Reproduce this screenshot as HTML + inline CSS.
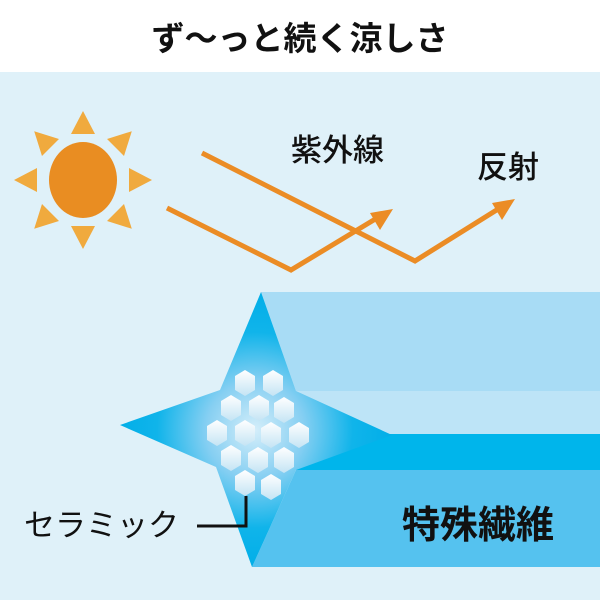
<!DOCTYPE html>
<html><head><meta charset="utf-8"><style>
body{margin:0;width:600px;height:600px;overflow:hidden;background:#fff}
</style></head><body>
<svg width="600" height="600" viewBox="0 0 600 600" xmlns="http://www.w3.org/2000/svg" font-family="'Liberation Sans','Noto Sans CJK JP',sans-serif">
<defs>
<radialGradient id="sg" cx="255" cy="430" r="140" gradientUnits="userSpaceOnUse">
<stop offset="0" stop-color="#d4eefa"/><stop offset="0.35" stop-color="#86cff2"/><stop offset="0.7" stop-color="#10b4ea"/><stop offset="1" stop-color="#00aee8"/></radialGradient>
<linearGradient id="hg" x1="0" y1="0" x2="0" y2="1"><stop offset="0" stop-color="#ffffff"/><stop offset="1" stop-color="#c4e4f4"/></linearGradient>
<polygon id="hx" points="0,-13 10,-7 10,7 0,13 -10,7 -10,-7" fill="url(#hg)"/>
<polygon id="ray" points="-12,-46 12,-46 0,-69" fill="#f0aa3e"/>
</defs>
<rect x="0" y="72" width="600" height="528" fill="#dff1f9"/>
<text x="300" y="50" font-size="33" font-weight="bold" text-anchor="middle" fill="#111">ず〜っと続く涼しさ</text>
<g transform="translate(83,180)">
<use href="#ray"/>
<use href="#ray" transform="rotate(45)"/>
<use href="#ray" transform="rotate(90)"/>
<use href="#ray" transform="rotate(135)"/>
<use href="#ray" transform="rotate(180)"/>
<use href="#ray" transform="rotate(225)"/>
<use href="#ray" transform="rotate(270)"/>
<use href="#ray" transform="rotate(315)"/>
</g>
<ellipse cx="83" cy="180" rx="34" ry="38" fill="#e98d22"/>
<g stroke="#eb8c25" stroke-width="5" fill="none">
<polyline points="167,208 291,270 382,215"/>
<polyline points="202,153 415,261 503,206"/>
</g>
<g fill="#eb8c25">
<polygon points="393,209 370,213 380,230"/>
<polygon points="515,199 492,203 502,220"/>
</g>
<text x="291" y="161" font-size="31" font-weight="500" fill="#111">紫外線</text>
<text x="477" y="178" font-size="31" font-weight="500" fill="#111">反射</text>
<polygon points="261,292 600,292 600,391 296,391" fill="#a8dcf5"/>
<rect x="296" y="391" width="304" height="44" fill="#bde4f7"/>
<rect x="296" y="434" width="304" height="37" fill="#00b5eb"/>
<polygon points="296,470 600,470 600,567 252,567" fill="#55c2ef"/>
<polygon points="261,292 296,391 392,435 296,470 252,567 216,467 120,425 220,390" fill="url(#sg)"/>
<g>
<use href="#hx" x="245" y="383"/><use href="#hx" x="273" y="383"/>
<use href="#hx" x="231" y="408"/><use href="#hx" x="259" y="408"/><use href="#hx" x="284" y="410"/>
<use href="#hx" x="217" y="433"/><use href="#hx" x="245" y="433"/><use href="#hx" x="271" y="435"/><use href="#hx" x="299" y="435"/>
<use href="#hx" x="231" y="458"/><use href="#hx" x="258" y="460"/><use href="#hx" x="284" y="460"/>
<use href="#hx" x="245" y="483"/><use href="#hx" x="271" y="487"/>
</g>
<polyline points="246,496 246,526 197,526" stroke="#111" stroke-width="3" fill="none"/>
<text x="24" y="536" font-size="31" fill="#111">セラミック</text>
<text x="402" y="538" font-size="38" font-weight="bold" fill="#111">特殊繊維</text>
</svg>
</body></html>
